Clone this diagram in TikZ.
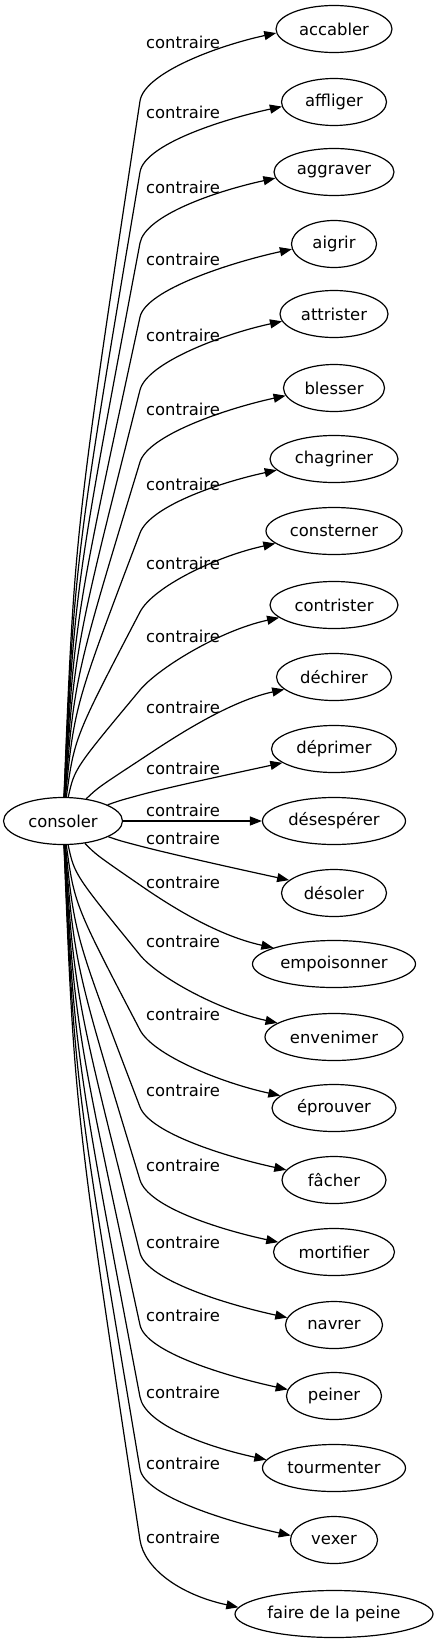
\documentclass[tikz,border=0pt]{standalone}
\usepackage{fontspec}
\setmainfont{DejaVu Sans}
\usetikzlibrary{shapes.geometric, arrows.meta, calc}

\begin{document}
\begin{tikzpicture}[x=0.5pt, y=-0.5pt,
    word/.style={ellipse, draw, line width=0.6pt, minimum height=23.5pt,
                 inner sep=0pt, font=\fontsize{8.2}{10}\selectfont},
    lab/.style={inner sep=0pt, font=\fontsize{8.2}{10}\selectfont},
    rel/.style={-{Triangle[length=6pt, width=4.5pt]}, line width=0.6pt}
  ]
  \useasboundingbox (0,0) rectangle (436,1643);
  \node[word, minimum width=59.5pt] (cons) at (63,821) {consoler};

  % upper fan
  \foreach \n/\t/\w/\y/\ly/\ky in {accabler/accabler/58/29/42/101,
      affliger/affliger/52.5/102/112/172, aggraver/aggraver/60/172/187/243,
      aigrir/aigrir/42.5/244/259/317, attrister/attrister/54/314/335/390,
      blesser/blesser/50.5/388/409/462, chagriner/chagriner/64/459/484/533,
      consterner/consterner/68/531/563/612, contrister/contrister/64/605/636/690,
      dechirer/déchirer/57.5/677/707/760, deprimer/déprimer/62.5/749/768/795} {
    \pgfmathtruncatemacro\ea{197-13*(821-\y)/792}
    \pgfmathsetmacro\qy{821+(0.4+max(0,0.55-0.0066*abs(\ky-821)))*(\ky-821)}
    \pgfmathsetmacro\qx{74.5+max(0,60-0.6*abs(\ky-821))}
    \node[word, minimum width=\w pt] (\n) at (334,\y) {\t};
    \node[lab] (l\n) at (183,\ly) {contraire};
    \coordinate (k\n) at (140,\ky);
    \coordinate (q\n) at (\qx,\qy);
    \draw[rel] (cons) .. controls (q\n) .. (k\n)
      .. controls ($(k\n)!-14pt!(q\n)$) and ($(\n.\ea)+(-60,13)$) .. (\n.\ea);
  }

  % straight one
  \node[word, minimum width=71.5pt] (desesperer) at (334,821) {désespérer};
  \node[lab] (ldesesperer) at (183,810) {contraire};
  \draw[rel] (cons) -- (desesperer);

  % lower fan
  \foreach \n/\t/\w/\y/\ly/\ky in {desoler/désoler/52.5/893/838/846,
      empoisonner/empoisonner/81.5/964/882/885, envenimer/envenimer/69/1037/941/955,
      eprouver/éprouver/62/1108/1014/1030, facher/fâcher/52/1180/1090/1107,
      mortifier/mortifier/60.5/1252/1165/1180, navrer/navrer/48.5/1325/1242/1253,
      peiner/peiner/47.5/1396/1315/1325, tourmenter/tourmenter/71.5/1468/1392/1397,
      vexer/vexer/43.5/1540/1463/1469,
      fairepeine/faire de la peine/99/1614/1537/1540} {
    \pgfmathtruncatemacro\ea{163+13*(\y-821)/792}
    \pgfmathsetmacro\qy{821+(0.4+max(0,0.55-0.0066*abs(\ky-821)))*(\ky-821)}
    \pgfmathsetmacro\qx{74.5+max(0,60-0.6*abs(\ky-821))}
    \node[word, minimum width=\w pt] (\n) at (334,\y) {\t};
    \node[lab] (l\n) at (183,\ly) {contraire};
    \coordinate (k\n) at (140,\ky);
    \coordinate (q\n) at (\qx,\qy);
    \draw[rel] (cons) .. controls (q\n) .. (k\n)
      .. controls ($(k\n)!-14pt!(q\n)$) and ($(\n.\ea)+(-60,-13)$) .. (\n.\ea);
  }
\end{tikzpicture}
\end{document}
